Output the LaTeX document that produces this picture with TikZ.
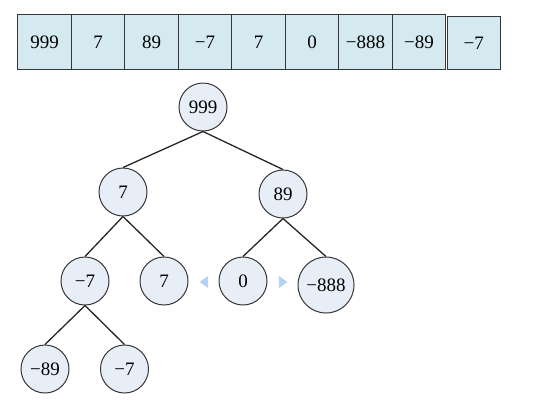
\documentclass[tikz,border=0pt]{standalone}
\usepackage{fontspec}
\setmainfont{Liberation Serif}
\usepackage{tikz}
\usetikzlibrary{shapes.geometric, positioning}

\definecolor{cellfill}{RGB}{212,234,240}
\definecolor{nodefill}{RGB}{231,238,248}
\definecolor{markfill}{RGB}{178,210,240}
\definecolor{edgegray}{RGB}{55,55,55}

\begin{document}
\begin{tikzpicture}[
    x=1pt, y=1pt,
    cell/.style={rectangle, draw=edgegray, fill=cellfill, line width=1pt, outer sep=0pt, minimum width=53.5pt, minimum height=55pt, inner sep=0pt, font=\fontsize{19}{19}\selectfont},
    heapnode/.style={circle, draw=edgegray, fill=nodefill, line width=1pt, minimum size=48pt, inner sep=0pt, font=\fontsize{19}{19}\selectfont},
    marker/.style={isosceles triangle, isosceles triangle apex angle=70, fill=markfill, draw=none, minimum height=8pt, minimum width=12pt, inner sep=0pt},
    link/.style={line width=1.3pt, draw=black!85},
]
\useasboundingbox (0,0) rectangle (554,-408);

% Row: array
\node[cell] (a0) at (44.5,-41.8) {999};
\node[cell, right=0pt of a0] (a1) {7};
\node[cell, right=0pt of a1] (a2) {89};
\node[cell, right=0pt of a2] (a3) {−7};
\node[cell, right=0pt of a3] (a4) {7};
\node[cell, right=0pt of a4] (a5) {0};
\node[cell, right=0pt of a5] (a6) {−888};
\node[cell, right=0pt of a6] (a7) {−89};
\node[cell, minimum width=53pt, minimum height=52.5pt, right=1.5pt of a7, yshift=-1pt] (a8) {−7};

% Tree
\node[heapnode] (root) at (203,-107) {999};
\node[heapnode] (l) at (123,-192) {7};
\node[heapnode] (r) at (283,-194) {89};
\node[heapnode] (ll) at (85,-281) {−7};
\node[heapnode] (lr) at (164,-281) {7};
\node[heapnode] (rl) at (243,-281) {0};
\node[heapnode, minimum size=56pt] (rr) at (326,-285) {−888};
\node[heapnode] (lll) at (45,-369) {−89};
\node[heapnode] (llr) at (124.5,-369) {−7};

% markers around 0
\node[marker, shape border rotate=180] (mleft) at (205,-282) {};
\node[marker] (mright) at (282,-282) {};

\draw[link] (root.south) -- (l.north);
\draw[link] (root.south) -- (r.north);
\draw[link] (l.south) -- (ll.north);
\draw[link] (l.south) -- (lr.north);
\draw[link] (r.south) -- (rl.north);
\draw[link] (r.south) -- (rr.north);
\draw[link] (ll.south) -- (lll.north);
\draw[link] (ll.south) -- (llr.north);

\end{tikzpicture}
\end{document}
